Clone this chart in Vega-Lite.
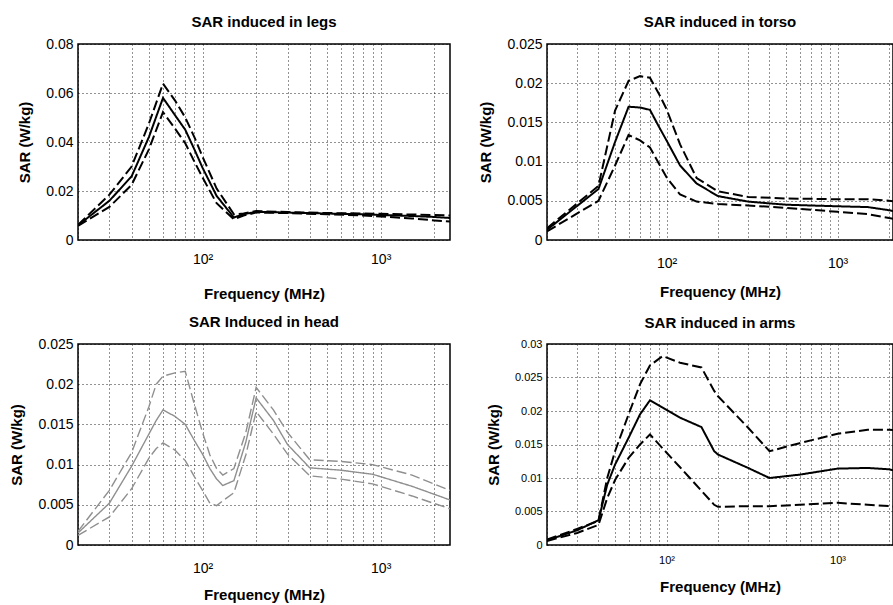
{
  "$schema": "https://vega.github.io/schema/vega-lite/v6.json",
  "padding": {"left": 8, "top": 14, "right": 0, "bottom": 0},
  "background": "white",
  "config": {
    "font": "Liberation Sans",
    "view": {"stroke": "black", "strokeWidth": 1.5},
    "axis": {
      "grid": true, "gridColor": "black", "gridDash": [1, 3], "gridOpacity": 0.85, "gridWidth": 1,
      "domain": false, "ticks": false, "labelColor": "black", "titleColor": "black",
      "labelFont": "Liberation Sans", "titleFont": "Liberation Sans",
      "labelFontSize": 14, "titleFontSize": 15, "titleFontWeight": "bold", "labelOverlap": false
    },
    "title": {"fontSize": 15, "fontWeight": "bold", "color": "black", "offset": 7, "font": "Liberation Sans"}
  },
  "datasets": {
    "sar": [
      {"part": "legs", "f": 20, "mean": 0.0060, "upper": 0.0062, "lower": 0.0058},
      {"part": "legs", "f": 30, "mean": 0.0160, "upper": 0.0185, "lower": 0.0135},
      {"part": "legs", "f": 40, "mean": 0.0260, "upper": 0.0300, "lower": 0.0225},
      {"part": "legs", "f": 50, "mean": 0.0420, "upper": 0.0475, "lower": 0.0370},
      {"part": "legs", "f": 60, "mean": 0.0580, "upper": 0.0638, "lower": 0.0522},
      {"part": "legs", "f": 70, "mean": 0.0510, "upper": 0.0570, "lower": 0.0455},
      {"part": "legs", "f": 80, "mean": 0.0450, "upper": 0.0500, "lower": 0.0395},
      {"part": "legs", "f": 90, "mean": 0.0370, "upper": 0.0420, "lower": 0.0320},
      {"part": "legs", "f": 100, "mean": 0.0295, "upper": 0.0340, "lower": 0.0255},
      {"part": "legs", "f": 120, "mean": 0.0180, "upper": 0.0210, "lower": 0.0150},
      {"part": "legs", "f": 150, "mean": 0.0092, "upper": 0.0105, "lower": 0.0085},
      {"part": "legs", "f": 170, "mean": 0.0105, "upper": 0.0108, "lower": 0.0100},
      {"part": "legs", "f": 200, "mean": 0.0115, "upper": 0.0118, "lower": 0.0112},
      {"part": "legs", "f": 300, "mean": 0.0112, "upper": 0.0114, "lower": 0.0110},
      {"part": "legs", "f": 500, "mean": 0.0108, "upper": 0.0110, "lower": 0.0105},
      {"part": "legs", "f": 800, "mean": 0.0105, "upper": 0.0108, "lower": 0.0100},
      {"part": "legs", "f": 1000, "mean": 0.0102, "upper": 0.0107, "lower": 0.0096},
      {"part": "legs", "f": 1500, "mean": 0.0098, "upper": 0.0104, "lower": 0.0088},
      {"part": "legs", "f": 2000, "mean": 0.0094, "upper": 0.0102, "lower": 0.0080},
      {"part": "legs", "f": 2450, "mean": 0.0090, "upper": 0.0100, "lower": 0.0075},

      {"part": "torso", "f": 20, "mean": 0.0013, "upper": 0.0015, "lower": 0.0011},
      {"part": "torso", "f": 40, "mean": 0.0065, "upper": 0.0069, "lower": 0.0050},
      {"part": "torso", "f": 50, "mean": 0.0125, "upper": 0.0165, "lower": 0.0095},
      {"part": "torso", "f": 60, "mean": 0.0170, "upper": 0.0203, "lower": 0.0134},
      {"part": "torso", "f": 70, "mean": 0.0169, "upper": 0.0209, "lower": 0.0127},
      {"part": "torso", "f": 80, "mean": 0.0166, "upper": 0.0207, "lower": 0.0118},
      {"part": "torso", "f": 90, "mean": 0.0145, "upper": 0.0187, "lower": 0.0098},
      {"part": "torso", "f": 100, "mean": 0.0127, "upper": 0.0167, "lower": 0.0080},
      {"part": "torso", "f": 120, "mean": 0.0095, "upper": 0.0122, "lower": 0.0058},
      {"part": "torso", "f": 150, "mean": 0.0072, "upper": 0.0079, "lower": 0.0049},
      {"part": "torso", "f": 200, "mean": 0.0056, "upper": 0.0062, "lower": 0.0046},
      {"part": "torso", "f": 300, "mean": 0.0049, "upper": 0.0055, "lower": 0.0044},
      {"part": "torso", "f": 500, "mean": 0.0045, "upper": 0.0053, "lower": 0.0041},
      {"part": "torso", "f": 1000, "mean": 0.0043, "upper": 0.0052, "lower": 0.0036},
      {"part": "torso", "f": 1500, "mean": 0.0042, "upper": 0.0052, "lower": 0.0033},
      {"part": "torso", "f": 2000, "mean": 0.0038, "upper": 0.0050, "lower": 0.0028},
      {"part": "torso", "f": 2450, "mean": 0.0034, "upper": 0.0048, "lower": 0.0025},

      {"part": "head", "f": 20, "mean": 0.0015, "upper": 0.0017, "lower": 0.0012},
      {"part": "head", "f": 30, "mean": 0.0052, "upper": 0.0068, "lower": 0.0035},
      {"part": "head", "f": 40, "mean": 0.0098, "upper": 0.0115, "lower": 0.0070},
      {"part": "head", "f": 50, "mean": 0.0138, "upper": 0.0172, "lower": 0.0108},
      {"part": "head", "f": 55, "mean": 0.0155, "upper": 0.0200, "lower": 0.0120},
      {"part": "head", "f": 60, "mean": 0.0168, "upper": 0.0210, "lower": 0.0127},
      {"part": "head", "f": 70, "mean": 0.0160, "upper": 0.0214, "lower": 0.0118},
      {"part": "head", "f": 80, "mean": 0.0150, "upper": 0.0216, "lower": 0.0105},
      {"part": "head", "f": 90, "mean": 0.0130, "upper": 0.0175, "lower": 0.0085},
      {"part": "head", "f": 100, "mean": 0.0113, "upper": 0.0140, "lower": 0.0068},
      {"part": "head", "f": 110, "mean": 0.0095, "upper": 0.0112, "lower": 0.0052},
      {"part": "head", "f": 120, "mean": 0.0082, "upper": 0.0095, "lower": 0.0049},
      {"part": "head", "f": 130, "mean": 0.0074, "upper": 0.0087, "lower": 0.0055},
      {"part": "head", "f": 150, "mean": 0.0080, "upper": 0.0095, "lower": 0.0065},
      {"part": "head", "f": 175, "mean": 0.0128, "upper": 0.0140, "lower": 0.0112},
      {"part": "head", "f": 200, "mean": 0.0183, "upper": 0.0196, "lower": 0.0166},
      {"part": "head", "f": 250, "mean": 0.0155, "upper": 0.0168, "lower": 0.0138},
      {"part": "head", "f": 300, "mean": 0.0125, "upper": 0.0140, "lower": 0.0113},
      {"part": "head", "f": 400, "mean": 0.0096, "upper": 0.0106, "lower": 0.0086},
      {"part": "head", "f": 600, "mean": 0.0093, "upper": 0.0104, "lower": 0.0082},
      {"part": "head", "f": 900, "mean": 0.0088, "upper": 0.0100, "lower": 0.0076},
      {"part": "head", "f": 1500, "mean": 0.0073, "upper": 0.0087, "lower": 0.0061},
      {"part": "head", "f": 2450, "mean": 0.0056, "upper": 0.0068, "lower": 0.0045},

      {"part": "arms", "f": 20, "mean": 0.0007, "upper": 0.0008, "lower": 0.0006},
      {"part": "arms", "f": 30, "mean": 0.0022, "upper": 0.0024, "lower": 0.0018},
      {"part": "arms", "f": 40, "mean": 0.0037, "upper": 0.0036, "lower": 0.0030},
      {"part": "arms", "f": 45, "mean": 0.0090, "upper": 0.0100, "lower": 0.0070},
      {"part": "arms", "f": 50, "mean": 0.0120, "upper": 0.0140, "lower": 0.0097},
      {"part": "arms", "f": 60, "mean": 0.0160, "upper": 0.0195, "lower": 0.0130},
      {"part": "arms", "f": 70, "mean": 0.0195, "upper": 0.0240, "lower": 0.0150},
      {"part": "arms", "f": 80, "mean": 0.0216, "upper": 0.0268, "lower": 0.0165},
      {"part": "arms", "f": 95, "mean": 0.0205, "upper": 0.0282, "lower": 0.0144},
      {"part": "arms", "f": 120, "mean": 0.0190, "upper": 0.0272, "lower": 0.0116},
      {"part": "arms", "f": 160, "mean": 0.0176, "upper": 0.0265, "lower": 0.0081},
      {"part": "arms", "f": 190, "mean": 0.0140, "upper": 0.0230, "lower": 0.0060},
      {"part": "arms", "f": 200, "mean": 0.0135, "upper": 0.0222, "lower": 0.0057},
      {"part": "arms", "f": 300, "mean": 0.0115, "upper": 0.0175, "lower": 0.0058},
      {"part": "arms", "f": 400, "mean": 0.0100, "upper": 0.0140, "lower": 0.0058},
      {"part": "arms", "f": 600, "mean": 0.0105, "upper": 0.0152, "lower": 0.0060},
      {"part": "arms", "f": 1000, "mean": 0.0114, "upper": 0.0166, "lower": 0.0063},
      {"part": "arms", "f": 1500, "mean": 0.0115, "upper": 0.0172, "lower": 0.0060},
      {"part": "arms", "f": 2000, "mean": 0.0113, "upper": 0.0172, "lower": 0.0058},
      {"part": "arms", "f": 2450, "mean": 0.0108, "upper": 0.0170, "lower": 0.0056}
    ]
  },
  "bounds": "flush",
  "columns": 2,
  "spacing": {"row": 104, "column": 97},
  "concat": [
    {
      "title": "SAR induced in legs",
      "width": 372, "height": 196,
      "data": {"name": "sar"},
      "transform": [
        {"filter": "datum.part == 'legs'"},
        {"fold": ["upper", "mean", "lower"], "as": ["series", "sar"]}
      ],
      "mark": {"type": "line", "color": "black", "strokeWidth": 2, "clip": true},
      "encoding": {
        "x": {"field": "f", "type": "quantitative",
          "scale": {"type": "log", "domain": [20, 2450], "nice": false},
          "axis": {"values": [20, 30, 40, 50, 60, 70, 80, 90, 100, 200, 300, 400, 500, 600, 700, 800, 900, 1000, 2000],
            "labelExpr": "datum.value == 100 ? '10²' : datum.value == 1000 ? '10³' : ''",
            "labelPadding": 12, "labelFontSize": 14, "title": "Frequency (MHz)", "titleY": 46, "titleBaseline": "top"}},
        "y": {"field": "sar", "type": "quantitative",
          "scale": {"domain": [0, 0.08], "nice": false},
          "axis": {"values": [0, 0.02, 0.04, 0.06, 0.08], "format": "~g", "labelPadding": 5, "title": "SAR (W/kg)", "titleX": -46}},
        "strokeDash": {"field": "series", "type": "nominal",
          "scale": {"domain": ["upper", "mean", "lower"], "range": [[10, 4], [1, 0], [10, 4]]}, "legend": null}
      }
    },
    {
      "title": "SAR induced in torso",
      "width": 346, "height": 196,
      "data": {"name": "sar"},
      "transform": [
        {"filter": "datum.part == 'torso'"},
        {"fold": ["upper", "mean", "lower"], "as": ["series", "sar"]}
      ],
      "mark": {"type": "line", "color": "black", "strokeWidth": 2, "clip": true},
      "encoding": {
        "x": {"field": "f", "type": "quantitative",
          "scale": {"type": "log", "domain": [20, 2110], "nice": false},
          "axis": {"values": [20, 30, 40, 50, 60, 70, 80, 90, 100, 200, 300, 400, 500, 600, 700, 800, 900, 1000, 2000],
            "labelExpr": "datum.value == 100 ? '10²' : datum.value == 1000 ? '10³' : ''",
            "labelPadding": 16, "labelFontSize": 14, "title": "Frequency (MHz)", "titleY": 44, "titleBaseline": "top"}},
        "y": {"field": "sar", "type": "quantitative",
          "scale": {"domain": [0, 0.025], "nice": false},
          "axis": {"values": [0, 0.005, 0.01, 0.015, 0.02, 0.025], "format": "~g", "labelPadding": 5, "title": "SAR (W/kg)", "titleX": -54}},
        "strokeDash": {"field": "series", "type": "nominal",
          "scale": {"domain": ["upper", "mean", "lower"], "range": [[10, 4], [1, 0], [10, 4]]}, "legend": null}
      }
    },
    {
      "title": "SAR Induced in head",
      "width": 372, "height": 201,
      "data": {"name": "sar"},
      "transform": [
        {"filter": "datum.part == 'head'"},
        {"fold": ["upper", "mean", "lower"], "as": ["series", "sar"]}
      ],
      "mark": {"type": "line", "color": "#8f8f8f", "strokeWidth": 1.4, "clip": true},
      "encoding": {
        "x": {"field": "f", "type": "quantitative",
          "scale": {"type": "log", "domain": [20, 2450], "nice": false},
          "axis": {"values": [20, 30, 40, 50, 60, 70, 80, 90, 100, 200, 300, 400, 500, 600, 700, 800, 900, 1000, 2000],
            "labelExpr": "datum.value == 100 ? '10²' : datum.value == 1000 ? '10³' : ''",
            "labelPadding": 16, "labelFontSize": 14, "title": "Frequency (MHz)", "titleY": 42, "titleBaseline": "top"}},
        "y": {"field": "sar", "type": "quantitative",
          "scale": {"domain": [0, 0.025], "nice": false},
          "axis": {"values": [0, 0.005, 0.01, 0.015, 0.02, 0.025], "format": "~g", "labelPadding": 5, "title": "SAR (W/kg)", "titleX": -54}},
        "strokeDash": {"field": "series", "type": "nominal",
          "scale": {"domain": ["upper", "mean", "lower"], "range": [[2, 2], [3, 1], [5, 3]]}, "legend": null}
      }
    },
    {
      "title": "SAR induced in arms",
      "width": 346, "height": 201,
      "data": {"name": "sar"},
      "transform": [
        {"filter": "datum.part == 'arms'"},
        {"fold": ["upper", "mean", "lower"], "as": ["series", "sar"]}
      ],
      "mark": {"type": "line", "color": "black", "strokeWidth": 2, "clip": true},
      "encoding": {
        "x": {"field": "f", "type": "quantitative",
          "scale": {"type": "log", "domain": [20, 2110], "nice": false},
          "axis": {"values": [20, 30, 40, 50, 60, 70, 80, 90, 100, 200, 300, 400, 500, 600, 700, 800, 900, 1000, 2000],
            "labelExpr": "datum.value == 100 ? '10²' : datum.value == 1000 ? '10³' : ''",
            "labelPadding": 9, "labelFontSize": 11, "title": "Frequency (MHz)", "titleY": 34, "titleBaseline": "top"}},
        "y": {"field": "sar", "type": "quantitative",
          "scale": {"domain": [0, 0.03], "nice": false},
          "axis": {"values": [0, 0.005, 0.01, 0.015, 0.02, 0.025, 0.03], "format": "~g", "labelFontSize": 11, "labelPadding": 5, "title": "SAR (W/kg)", "titleX": -46}},
        "strokeDash": {"field": "series", "type": "nominal",
          "scale": {"domain": ["upper", "mean", "lower"], "range": [[10, 4], [1, 0], [10, 4]]}, "legend": null}
      }
    }
  ]
}
